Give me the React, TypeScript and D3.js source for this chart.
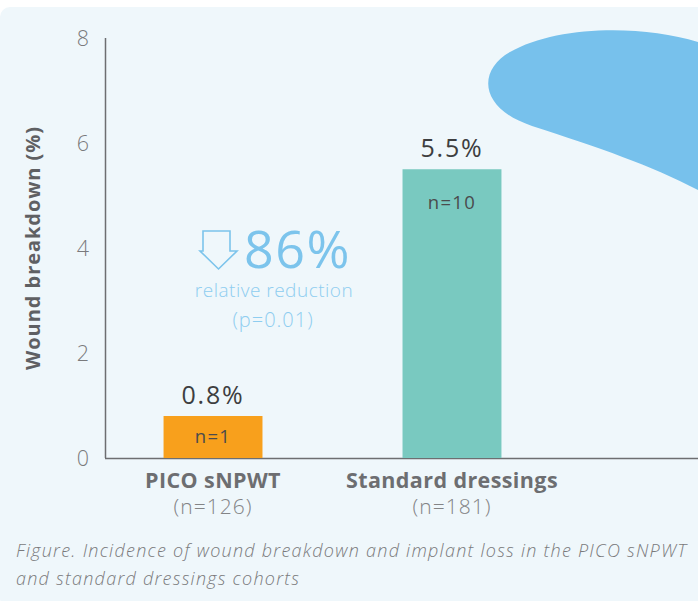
import * as d3 from 'd3'

const categories = ['PICO sNPWT', 'Standard dressings']
const cohortSizes = ['(n=126)', '(n=181)']
const values = [0.8, 5.5]
const valueLabels = ['0.8%', '5.5%']
const eventCounts = ['n=1', 'n=10']
const barColors = ['#f8a01c', '#79c9c0']
const yTicks = [0, 2, 4, 6, 8]

const W = 698
const H = 601
const FONT = '"Open Sans", Lato, sans-serif'

export default function App() {
  const y = d3.scaleLinear().domain([0, 8]).range([458, 38])
  const x = d3
    .scaleBand<string>()
    .domain(categories)
    .range([105, 560])
    .paddingInner(0.586)
    .paddingOuter(0.245)

  // decorative blob top right
  const blob = d3.path()
  blob.moveTo(W, 42)
  blob.bezierCurveTo(640, 24, 555, 26, 510, 52)
  blob.bezierCurveTo(478, 70, 478, 108, 532, 126)
  blob.bezierCurveTo(600, 148, 650, 165, W, 190)
  blob.closePath()

  return (
    <div style={{ position: 'fixed', left: 0, top: 0 }}>
      <svg width={W} height={H} style={{ display: 'block', fontFamily: FONT }}>
        <rect x={0} y={0} width={W} height={H} fill="#ffffff" />
        <rect x={0} y={7} width={W + 20} height={H} rx={10} fill="#eff7fb" />
        <path d={blob.toString()} fill="#77c1ec" />

        {/* axes */}
        <line x1={105.5} x2={105.5} y1={y(8)} y2={y(0)} stroke="#6d6e71" strokeWidth={1.5} />
        <line x1={105} x2={W} y1={y(0) + 0.5} y2={y(0) + 0.5} stroke="#6d6e71" strokeWidth={1.5} />
        {yTicks.map((t) => (
          <text
            key={t}
            x={89}
            y={y(t)}
            dy="0.35em"
            textAnchor="end"
            fontSize={21.5}
            fontWeight={300}
            fill="#7a7a7c"
          >
            {t}
          </text>
        ))}
        <text
          transform={`translate(40, ${y(4)}) rotate(-90)`}
          textAnchor="middle"
          fontSize={20}
          fontWeight={700}
          letterSpacing={0.95}
          fill="#5f6063"
        >
          Wound breakdown (%)
        </text>

        {/* bars */}
        {categories.map((c, i) => {
          const bx = x(c) ?? 0
          const cx = bx + x.bandwidth() / 2
          const top = y(values[i])
          const h = y(0) - top
          return (
            <g key={c}>
              <rect x={bx} y={top} width={x.bandwidth()} height={h} fill={barColors[i]} />
              <text
                x={cx}
                y={top - 12}
                textAnchor="middle"
                fontSize={25}
                fontWeight={500}
                letterSpacing={1.8}
                fill="#3d3e40"
              >
                {valueLabels[i]}
              </text>
              <text
                x={cx}
                y={top + Math.min(40, h / 2 + 6)}
                textAnchor="middle"
                fontSize={18.5}
                letterSpacing={1.3}
                fill="#4a4b4d"
              >
                {eventCounts[i]}
              </text>
              <text
                x={cx}
                y={488}
                textAnchor="middle"
                fontSize={21.5}
                fontWeight={700}
                letterSpacing={0.4}
                fill="#6d6e71"
              >
                {c}
              </text>
              <text
                x={cx}
                y={514}
                textAnchor="middle"
                fontSize={21}
                fontWeight={300}
                letterSpacing={1}
                fill="#838486"
              >
                {cohortSizes[i]}
              </text>
            </g>
          )
        })}

        {/* annotation */}
        <path
          d="M203,231 H230 V251 H237 L218.5,269 L200,251 H203 Z"
          fill="none"
          stroke="#7cc4ec"
          strokeWidth={1.6}
          strokeLinejoin="miter"
        />
        <text x={244} y={268} fontSize={52} fontWeight={500} letterSpacing={1.5} fill="#7cc4ec">
          86%
        </text>
        <text
          x={274}
          y={297}
          textAnchor="middle"
          fontSize={19}
          fontWeight={300}
          letterSpacing={0.5}
          fill="#8ecdf0"
        >
          relative reduction
        </text>
        <text
          x={273}
          y={327}
          textAnchor="middle"
          fontSize={20}
          fontWeight={300}
          letterSpacing={1}
          fill="#8ecdf0"
        >
          (p=0.01)
        </text>

        {/* caption */}
        <text
          x={16}
          y={557}
          fontSize={18}
          fontStyle="italic"
          fontWeight={300}
          letterSpacing={1.25}
          fill="#7a7a7c"
        >
          Figure. Incidence of wound breakdown and implant loss in the PICO sNPWT
        </text>
        <text
          x={16}
          y={585}
          fontSize={18}
          fontStyle="italic"
          fontWeight={300}
          letterSpacing={1.25}
          fill="#7a7a7c"
        >
          and standard dressings cohorts
        </text>
      </svg>
    </div>
  )
}
